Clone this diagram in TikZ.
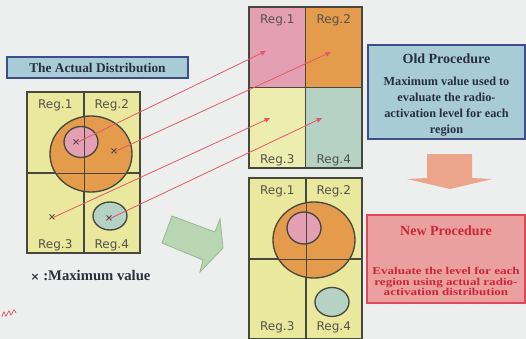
\documentclass[tikz,border=0pt]{standalone}
\usepackage{fontspec}
\setmainfont{Liberation Serif}
\setsansfont{DejaVu Sans}
\usetikzlibrary{arrows.meta, positioning}
\definecolor{paper}{RGB}{236,239,237}
\definecolor{boxblue}{RGB}{168,204,214}
\definecolor{boxedge}{RGB}{62,76,140}
\definecolor{newfill}{RGB}{235,160,160}
\definecolor{newedge}{RGB}{222,72,88}
\definecolor{newtext}{RGB}{204,38,58}
\definecolor{inkdark}{RGB}{40,46,60}
\definecolor{labelgray}{RGB}{82,82,78}
\definecolor{gridgray}{RGB}{70,72,64}
\definecolor{cellyellow}{RGB}{234,232,156}
\definecolor{cellpink}{RGB}{228,160,178}
\definecolor{cellorange}{RGB}{228,156,76}
\definecolor{cellteal}{RGB}{182,210,196}
\definecolor{raypink}{RGB}{226,88,104}
\definecolor{arrowgreen}{RGB}{184,214,178}
\definecolor{greenedge}{RGB}{150,184,146}
\definecolor{arrowpeach}{RGB}{236,164,138}

\begin{document}
\begin{tikzpicture}[x=0.75pt, y=-0.75pt,
    cell/.style={rectangle, draw=gridgray, line width=1pt, minimum width=42.4pt, minimum height=60.4pt, inner sep=0pt},
    reg/.style={font=\sffamily\fontsize{9}{10}\selectfont, text=labelgray, inner sep=1pt},
    xmark/.style={font=\sffamily\fontsize{7.5}{8}\selectfont, text=inkdark, inner sep=0pt},
    titlebox/.style={rectangle, draw=boxedge, line width=1pt, fill=boxblue, inner sep=0pt},
    newbox/.style={rectangle, draw=newedge, line width=1pt, fill=newfill, inner sep=0pt},
    headtext/.style={font=\bfseries\fontsize{10.5}{12}\selectfont, text=inkdark},
    bodytext/.style={font=\bfseries\fontsize{9.2}{12}\selectfont, align=center, text=inkdark},
    gridline/.style={draw=gridgray, line width=1pt},
    ray/.style={-{Triangle[length=4pt, width=3.5pt]}, draw=raypink, line width=0.6pt}
]
\fill[paper] (0,0) rectangle (526,339);
\useasboundingbox (0,0) rectangle (526,339);

% actual distribution
\node[titlebox, minimum width=135.75pt, minimum height=15.75pt, font=\bfseries\fontsize{10}{12}\selectfont, text=inkdark] (actual) at (97.5,67.5) {The Actual Distribution};
\node[cell, fill=cellyellow] (a1) at (55.25,132.25) {};
\node[cell, fill=cellyellow] (a2) at (111.75,132.25) {};
\node[cell, fill=cellyellow] (a3) at (55.25,212.75) {};
\node[cell, fill=cellyellow] (a4) at (111.75,212.75) {};
\draw[gridline, fill=cellorange] (91,154) ellipse [x radius=41, y radius=38];
\draw[gridline, fill=cellpink] (81,142) ellipse [x radius=17, y radius=15.5];
\draw[gridline, fill=cellteal] (110,216) ellipse [x radius=17, y radius=14];
\draw[gridline] (a1.north east) -- (a3.south east);
\draw[gridline] (a1.south west) -- (a2.south east);
\node[reg, below=5pt of a1.north] (la1) {Reg.1};
\node[reg, below=5pt of a2.north] (la2) {Reg.2};
\node[reg, above=1pt of a3.south] (la3) {Reg.3};
\node[reg, above=1pt of a4.south] (la4) {Reg.4};
\node[xmark] (x1) at (76,143) {×};
\node[xmark] (x2) at (114,152) {×};
\node[xmark] (x3) at (52,218) {×};
\node[xmark] (x4) at (109,219) {×};
\node[anchor=west, font=\bfseries\fontsize{11}{12}\selectfont, text=inkdark] (legend) at (26,276) {{\sffamily\fontsize{8}{9}\selectfont ×}~:Maximum value};
\draw[raypink, line width=0.6pt] plot[smooth] coordinates {(2,317) (4,312) (6,316) (9,311) (11,315) (14,310) (16,313)};

% old procedure grid
\node[cell, fill=cellpink] (b1) at (277.25,47.25) {};
\node[cell, fill=cellorange] (b2) at (333.75,47.25) {};
\node[cell, fill=cellyellow!80!white] (b3) at (277.25,127.75) {};
\node[cell, fill=cellteal] (b4) at (333.75,127.75) {};
\node[reg, below=5pt of b1.north] (lb1) {Reg.1};
\node[reg, below=5pt of b2.north] (lb2) {Reg.2};
\node[reg, above=1pt of b3.south] (lb3) {Reg.3};
\node[reg, above=1pt of b4.south] (lb4) {Reg.4};
\coordinate (t1) at (266,51);
\coordinate (t2) at (331,52);
\coordinate (t3) at (270,118);
\coordinate (t4) at (322,118);
\draw[ray] (x1.center) -- (t1);
\draw[ray] (x2.center) -- (t2);
\draw[ray] (x3.center) -- (t3);
\draw[ray] (x4.center) -- (t4);

% new procedure grid
\node[cell, fill=cellyellow] (c1) at (277.25,218.25) {};
\node[cell, fill=cellyellow] (c2) at (333.75,218.25) {};
\node[cell, fill=cellyellow] (c3) at (277.25,298.75) {};
\node[cell, fill=cellyellow] (c4) at (333.75,298.75) {};
\draw[gridline, fill=cellorange] (314,240) ellipse [x radius=41, y radius=38];
\draw[gridline, fill=cellpink] (304,228) ellipse [x radius=17, y radius=16];
\draw[gridline, fill=cellteal] (332,302) ellipse [x radius=17, y radius=14.5];
\draw[gridline] (c1.north east) -- (c3.south east);
\draw[gridline] (c1.south west) -- (c2.south east);
\node[reg, below=5pt of c1.north] (lc1) {Reg.1};
\node[reg, below=5pt of c2.north] (lc2) {Reg.2};
\node[reg, above=4pt of c3.south] (lc3) {Reg.3};
\node[reg, above=4pt of c4.south] (lc4) {Reg.4};

% block arrows
\filldraw[fill=arrowgreen, draw=greenedge, line width=0.6pt] (172,216) -- (215,232) -- (220,219) -- (223,248) -- (200,272) -- (203,260) -- (162,243) -- cycle;
\fill[arrowpeach] (427,154) -- (472,154) -- (472,178) -- (492,179) -- (450,189) -- (407,179) -- (427,178) -- cycle;

% procedure boxes
\node[titlebox, minimum width=117.75pt, minimum height=70.5pt] (old) at (446.5,92) {};
\node[headtext] (oldhead) at (446.5,59) {Old Procedure};
\node[bodytext] (oldbody) at (446.5,107) {Maximum value used to\\evaluate the radio-\\activation level for each\\region};
\node[newbox, minimum width=118.5pt, minimum height=66pt] (new) at (446,259) {};
\node[headtext, text=newtext] (newhead) at (446,231) {New Procedure};
\node[font=\bfseries, text=newtext, inner sep=0pt] (newbody) at (446,283) {\scalebox{1}[0.8]{\fontsize{9.8}{9.4}\selectfont\setlength\tabcolsep{0pt}\begin{tabular}{c}Evaluate the level for each\\region using actual radio-\\activation distribution\end{tabular}}};
\end{tikzpicture}
\end{document}
